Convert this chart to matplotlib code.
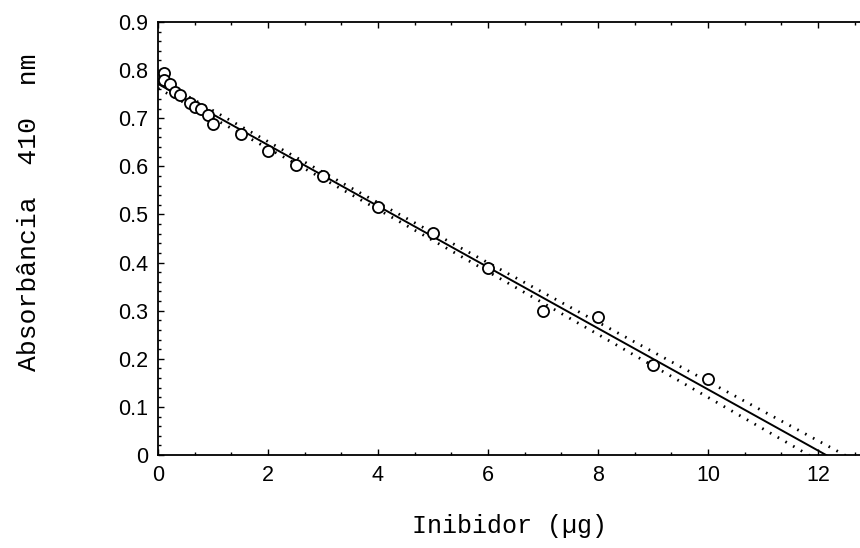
import numpy as np
import matplotlib
matplotlib.use("Agg")
import matplotlib.pyplot as plt
from matplotlib.ticker import AutoMinorLocator

# inhibitor amount (ug) and absorbance at 410 nm
inibidor = [0.1, 0.1, 0.22, 0.31, 0.4, 0.58, 0.67, 0.79, 0.91, 1.0,
            1.5, 2.0, 2.5, 3.0, 4.0, 5.0, 6.0, 7.0, 8.0, 9.0, 10.0]
absorbancia = [0.795, 0.78, 0.772, 0.755, 0.748, 0.732, 0.723, 0.719, 0.707, 0.688,
               0.667, 0.631, 0.603, 0.58, 0.515, 0.461, 0.388, 0.299, 0.286, 0.187, 0.157]
x_ticks = [0, 2, 4, 6, 8, 10, 12]
y_ticks = [0, 0.1, 0.2, 0.3, 0.4, 0.5, 0.6, 0.7, 0.8, 0.9]
t_crit = 2.09  # 95%, n-2 degrees of freedom


def linear_fit(x, y):
    """Least squares line plus 95% confidence band of the mean."""
    x = np.asarray(x)
    y = np.asarray(y)
    b, a = np.polyfit(x, y, 1)
    res = y - (a + b * x)
    n = len(x)
    s = np.sqrt(np.sum(res ** 2) / (n - 2))
    xm = x.mean()
    sxx = np.sum((x - xm) ** 2)

    def band(xx):
        yy = a + b * xx
        h = t_crit * s * np.sqrt(1.0 / n + (xx - xm) ** 2 / sxx)
        return yy, yy - h, yy + h
    return band


band = linear_fit(inibidor, absorbancia)
xx = np.linspace(0, 13, 400)
yfit, ylow, yup = band(xx)

fig = plt.figure(figsize=(8.6, 5.48), dpi=100)
ax = fig.add_axes([158 / 860, 1 - 455 / 548, 702 / 860, 433 / 548])

ax.plot(xx, yfit, color="black", lw=1.4)
ax.plot(xx, ylow, color="black", lw=2.0, linestyle=(0, (0.6, 2.6)))
ax.plot(xx, yup, color="black", lw=2.0, linestyle=(0, (0.6, 2.6)))
ax.plot(inibidor, absorbancia, "o", mfc="white", mec="black", ms=8, mew=1.3)

ax.set_xlim(0, 702 / 55)
ax.set_ylim(0, 0.9)
ax.set_xticks(x_ticks)
ax.set_yticks(y_ticks)
ax.set_yticklabels(["0"] + ["%.1f" % v for v in y_ticks[1:]])
ax.xaxis.set_minor_locator(AutoMinorLocator(3))
ax.yaxis.set_minor_locator(AutoMinorLocator(5))
ax.tick_params(which="both", direction="in", top=True, right=False,
               labelsize=15.5, width=1.0)
ax.tick_params(which="major", length=4, pad=7)
ax.tick_params(which="minor", length=2.5)
for lbl in ax.get_xticklabels() + ax.get_yticklabels():
    lbl.set_family("Liberation Sans")
ax.spines["right"].set_visible(False)
for sp in ["left", "bottom", "top"]:
    ax.spines[sp].set_linewidth(1.3)

ax.set_xlabel("Inibidor (\u00b5g)", family="Liberation Mono", fontsize=18, labelpad=20)
ax.set_ylabel("Absorb\u00e2ncia  410  nm", family="Liberation Mono", fontsize=19)
ax.yaxis.set_label_coords(-0.167, 0.56)

fig.savefig("out.png", dpi=100)
